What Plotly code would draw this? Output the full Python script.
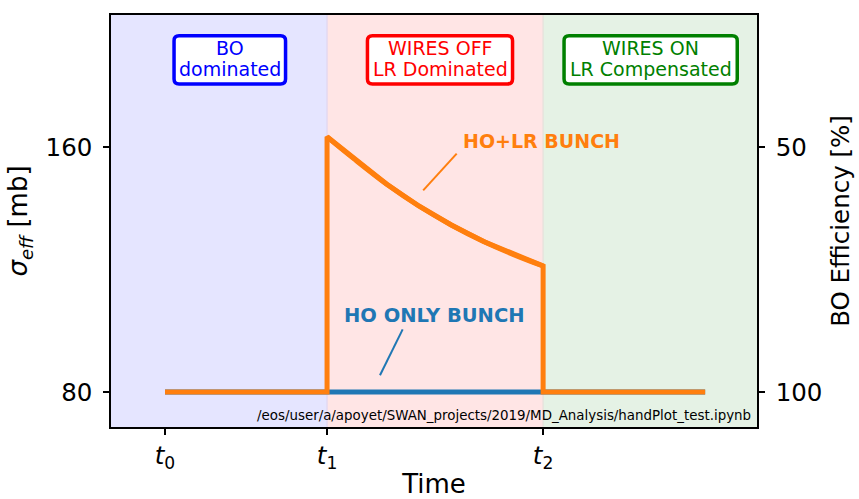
import plotly.graph_objects as go

# ---------------- data ----------------
time_orange = [1, 4, 4, 4.5, 5.1, 5.7, 6.3, 6.9, 7.5, 8, 8, 11]
sigma_orange = [80, 80, 163.4, 156.2, 148.0, 140.8, 134.6, 129.2, 124.6, 121.2, 80, 80]
time_blue = [1, 11]
sigma_blue = [80, 80]

tick_times = [1, 4, 8]
tick_text = ["<i>t</i><sub>0</sub>", "<i>t</i><sub>1</sub>", "<i>t</i><sub>2</sub>"]
sigma_ticks = [80, 160]
eff_ticks = [50, 100]

phase_edges = [0, 4, 8, 11.96]
phase_fill = ["#e5e5ff", "#ffe5e5", "#e5f2e5"]
phase_lines = [["BO", "dominated"], ["WIRES OFF", "LR Dominated"], ["WIRES ON", "LR Compensated"]]
phase_color = ["#0000ff", "#ff0000", "#008000"]
edge_color = ["#e2d6ee", "#e6e2dc"]

X_RANGE = [0, 11.96]
Y_RANGE = [68.6, 203.2]
Y2_RANGE = [107.1, 23.0]

FONT = "DejaVu Sans"
W, H = 859, 499
ML, MR, MT, MB = 111, 102, 15, 72
PW, PH = W - ML - MR, H - MT - MB


def px2paper(px, py):
    return (px - ML) / PW, (H - MB - py) / PH


def rounded_path(x0, x1, y0, y1, r=5):
    def P(x, y):
        a, b = px2paper(x, y)
        return f"{a:.5f},{b:.5f}"
    return (f"M {P(x0 + r, y0)} L {P(x1 - r, y0)} Q {P(x1, y0)} {P(x1, y0 + r)} "
            f"L {P(x1, y1 - r)} Q {P(x1, y1)} {P(x1 - r, y1)} "
            f"L {P(x0 + r, y1)} Q {P(x0, y1)} {P(x0, y1 - r)} "
            f"L {P(x0, y0 + r)} Q {P(x0, y0)} {P(x0 + r, y0)} Z")


fig = go.Figure()
fig.add_trace(go.Scatter(x=time_blue, y=sigma_blue, mode="lines",
                         line=dict(color="#1f77b4", width=5), showlegend=False, hoverinfo="skip"))
fig.add_trace(go.Scatter(x=time_orange, y=sigma_orange, mode="lines",
                         line=dict(color="#ff7f0e", width=5), showlegend=False, hoverinfo="skip"))
# smooth overlay of the decaying part (same data points, spline-rendered)
fig.add_trace(go.Scatter(x=time_orange[2:10], y=sigma_orange[2:10], mode="lines",
                         line=dict(color="#ff7f0e", width=5, shape="spline", smoothing=1),
                         showlegend=False, hoverinfo="skip"))
# invisible trace to anchor the right axis
fig.add_trace(go.Scatter(x=time_blue, y=[100, 100], yaxis="y2", mode="lines",
                         line=dict(color="rgba(0,0,0,0)", width=0), showlegend=False, hoverinfo="skip"))

shapes = []
for i in range(3):
    shapes.append(dict(type="rect", xref="x", yref="paper", x0=phase_edges[i], x1=phase_edges[i + 1],
                       y0=0, y1=1, fillcolor=phase_fill[i], line=dict(width=0), layer="below"))
for i in range(2):
    shapes.append(dict(type="line", xref="x", yref="paper", x0=phase_edges[i + 1], x1=phase_edges[i + 1],
                       y0=0, y1=1, line=dict(color=edge_color[i], width=1.3), layer="below"))

# boxes (pixel geometry: outer edges)
box_px = [(172.3, 287.3), (365.7, 514.3), (562.3, 739.0)]
box_y = (34, 85.7)
bw = 3.5
annotations = []
for i, (bx0, bx1) in enumerate(box_px):
    shapes.append(dict(type="path", xref="paper", yref="paper",
                       path=rounded_path(bx0 + bw / 2, bx1 - bw / 2, box_y[0] + bw / 2, box_y[1] - bw / 2, 5),
                       fillcolor="white", line=dict(color=phase_color[i], width=bw), layer="above"))
    cx = (bx0 + bx1) / 2
    for j, cy in enumerate([47.7, 69.4]):
        ax, ay = px2paper(cx, cy)
        annotations.append(dict(x=ax, y=ay, xref="paper", yref="paper", text=phase_lines[i][j],
                                showarrow=False, xanchor="center", yanchor="middle",
                                font=dict(family=FONT, size=19, color=phase_color[i])))

# pointer lines
shapes.append(dict(type="line", xref="x", yref="y", x0=6.40, y0=157.9, x1=5.78, y1=145.9,
                   line=dict(color="#ff7f0e", width=2), layer="above"))
shapes.append(dict(type="line", xref="x", yref="y", x0=5.40, y0=100.5, x1=4.98, y1=85.5,
                   line=dict(color="#1f77b4", width=2), layer="above"))

ax, ay = px2paper(541.3, 140.7)
annotations.append(dict(x=ax, y=ay, xref="paper", yref="paper", text="<b>HO+LR BUNCH</b>", showarrow=False,
                        xanchor="center", yanchor="middle", font=dict(family=FONT, size=19, color="#ff7f0e")))
ax, ay = px2paper(434.2, 315.7)
annotations.append(dict(x=ax, y=ay, xref="paper", yref="paper", text="<b>HO ONLY BUNCH</b>", showarrow=False,
                        xanchor="center", yanchor="middle", font=dict(family=FONT, size=19.5, color="#1f77b4")))
ax, ay = px2paper(753.3, 415.0)
annotations.append(dict(x=ax, y=ay, xref="paper", yref="paper",
                        text="/eos/user/a/apoyet/SWAN_projects/2019/MD_Analysis/handPlot_test.ipynb",
                        showarrow=False, xanchor="right", yanchor="middle",
                        font=dict(family=FONT, size=13.4, color="black")))

axis_common = dict(showgrid=False, zeroline=False, showline=True, linecolor="black", linewidth=1.5,
                   ticks="outside", ticklen=6, tickwidth=1.5, tickcolor="black",
                   automargin=False,
                   tickfont=dict(family=FONT, size=24.5, color="black"))

fig.update_layout(
    width=W, height=H, margin=dict(l=ML, r=MR, t=MT, b=MB, pad=0, autoexpand=False),
    plot_bgcolor="white", paper_bgcolor="white",
    font=dict(family=FONT, color="black"),
    xaxis=dict(range=X_RANGE, tickvals=tick_times, ticktext=tick_text, mirror=True,
               ticklabelstandoff=0,
               title=dict(text="Time", font=dict(family=FONT, size=26), standoff=10), **axis_common),
    yaxis=dict(range=Y_RANGE, tickvals=sigma_ticks, ticklabelstandoff=6,
               title=dict(text="<i>σ<sub>eff</sub></i> [mb]", font=dict(family=FONT, size=26), standoff=10),
               **axis_common),
    yaxis2=dict(range=Y2_RANGE, tickvals=eff_ticks, overlaying="y", side="right", ticklabelstandoff=6,
                title=dict(text="BO Efficiency [%]", font=dict(family=FONT, size=24.5), standoff=10),
                **axis_common),
    shapes=shapes, annotations=annotations, showlegend=False,
)

fig.write_html("out.html")
